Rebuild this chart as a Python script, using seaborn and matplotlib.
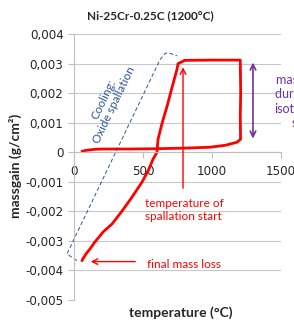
import matplotlib
matplotlib.use('Agg')
import matplotlib.pyplot as plt
import matplotlib.ticker as mticker
import seaborn as sns
import pandas as pd

# measured mass gain curve: heating -> isothermal hold -> cooling
temperature = [58, 80, 150, 210, 400, 600, 800, 985, 1100, 1181, 1207,
               1205, 1208, 1205,
               1000, 800, 790,
               754, 746, 710, 674, 638, 609, 601, 572, 543, 493, 420, 348,
               275, 210, 188, 152, 116, 87, 65, 58]
massgain = [0.00003, 0.00006, 0.0001, 0.00011, 0.00011, 0.00012, 0.00014, 0.00017, 0.00024, 0.00034, 0.00044,
            0.0012, 0.0020, 0.00312,
            0.00312, 0.00311, 0.00308,
            0.0030, 0.0028, 0.00219, 0.00155, 0.00098, 0.00044, 0.0, -0.00024, -0.00057, -0.00101, -0.00152, -0.00199,
            -0.00243, -0.0027, -0.00283, -0.00303, -0.00327, -0.00344, -0.0036, -0.00367]

# hand drawn dashed outline ("Cooling: Oxide spallation")
outline_T = [22, -51, 623, 659, 681, 746]
outline_m = [-0.00367, -0.00344, 0.00313, 0.00334, 0.00337, 0.00327]

x_ticks = [0, 500, 1000, 1500]
y_ticks = [-0.005, -0.004, -0.003, -0.002, -0.001, 0, 0.001, 0.002, 0.003, 0.004]

spall_T = 790
spall_m = [-0.00131, 0.00297]
final_arrow_T = [464, 101]
final_arrow_m = -0.0037
iso_T = 1297
iso_m = [0.00313, 0.00037]

df = pd.DataFrame({'temperature': temperature, 'massgain': massgain})

sns.set_style('white')
plt.rcParams['font.family'] = ['Lato', 'DejaVu Sans']

fig = plt.figure(figsize=(2.94, 3.2), dpi=100)
ax = fig.add_axes([0.2517, 0.0625, 0.704, 0.831])

sns.lineplot(data=df, x='temperature', y='massgain', sort=False, estimator=None,
             color='#FF0000', lw=2.0, ax=ax)
ax.plot(outline_T, outline_m, color='#2F5597', lw=0.7, ls=(0, (4, 2.5)), clip_on=False)

ax.set_xlim(0, 1500)
ax.set_ylim(-0.005, 0.004)
ax.set_xticks(x_ticks)
ax.set_yticks(y_ticks)
ax.yaxis.set_major_formatter(mticker.FuncFormatter(
    lambda v, p: '0' if abs(v) < 1e-9 else f'{v:.3f}'.replace('.', ',')))
ax.grid(axis='y', color='#C8C8C8', lw=0.8)
ax.set_axisbelow(True)
for s in ['top', 'right']:
    ax.spines[s].set_visible(False)
ax.spines['bottom'].set_position(('data', 0))
for s in ['left', 'bottom']:
    ax.spines[s].set_color('#BFBFBF')
    ax.spines[s].set_linewidth(0.8)
ax.tick_params(axis='both', which='major', length=4, width=0.8, color='#BFBFBF',
               labelsize=8.6, labelcolor='#262626', direction='out', bottom=True, left=True)
ax.tick_params(axis='x', pad=5)
for lab in ax.get_xticklabels() + ax.get_yticklabels():
    lab.set_family('DejaVu Sans')
ax.set_xlabel('')
ax.set_ylabel('')

fig.text(150 / 294, 1 - 16 / 320, 'Ni-25Cr-0.25C (1200°C)', ha='center', va='center',
         fontsize=8.5, fontweight='bold', color='#262626')
fig.text(181 / 294, 1 - 313 / 320, 'temperature (°C)', ha='center', va='center',
         fontsize=10, fontweight='bold', color='#262626')
fig.text(15 / 294, 1 - 166 / 320, 'massgain (g/cm²)', ha='center', va='center',
         rotation=90, fontsize=10, fontweight='bold', color='#262626')

# annotations
ax.annotate('', xy=(spall_T, spall_m[1]), xytext=(spall_T, spall_m[0]),
            arrowprops=dict(arrowstyle='->', color='#FF0000', lw=1.0))
ax.text(514, -0.00195, 'temperature of\nspallation start', color='#FF0000', fontsize=8.5,
        ha='left', va='center', linespacing=1.3)
ax.annotate('', xy=(final_arrow_T[1], final_arrow_m), xytext=(final_arrow_T[0], final_arrow_m),
            arrowprops=dict(arrowstyle='->', color='#FF0000', lw=1.0))
ax.text(529, -0.0038, 'final mass loss', color='#FF0000', fontsize=8.5, ha='left', va='center')
ax.text(254, 0.00169, 'Cooling:\nOxide spallation', color='#2F5597', fontsize=8.5,
        rotation=64.5, ha='center', va='center', rotation_mode='anchor', multialignment='center',
        linespacing=1.1)
ax.annotate('', xy=(iso_T, iso_m[0]), xytext=(iso_T, iso_m[1]),
            arrowprops=dict(arrowstyle='<->', color='#7030A0', lw=1.2), annotation_clip=False)
ax.text(1660, 0.00172, 'mass gain\nduring the\nisothermal\nstep', color='#7030A0', fontsize=9,
        ha='center', va='center', linespacing=1.25, clip_on=False)

fig.savefig('out.png', dpi=100)
